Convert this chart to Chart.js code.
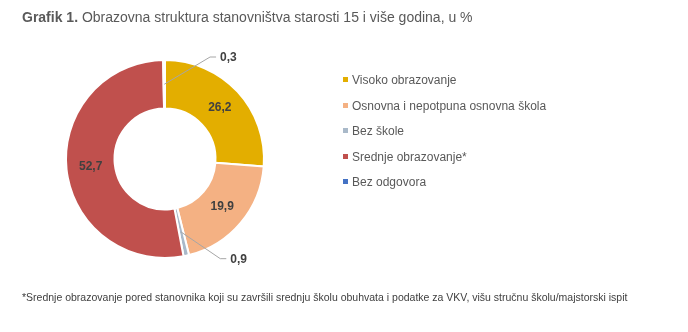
<!DOCTYPE html>
<html>
<head>
<meta charset="utf-8">
<script src="https://cdn.jsdelivr.net/npm/chart.js@4"></script>
<style>
  body { margin: 0; background: #fff; }
  #wrap { position: relative; width: 688px; height: 332px; font-family: "Liberation Sans", Arial, sans-serif; }
  #title { position: absolute; left: 22px; top: 9px; font-size: 14px; color: #595959; white-space: nowrap; }
  #title b { color: #595959; }
  #legend { position: absolute; left: 343px; top: 71px; font-size: 12px; color: #595959; }
  #legend div { height: 25.6px; line-height: 18px; white-space: nowrap; }
  #legend span { display: inline-block; width: 5px; height: 5px; margin-right: 4px; vertical-align: 2px; }
  #note { position: absolute; left: 22px; top: 291px; font-size: 10.5px; color: #404040; white-space: nowrap; }
  canvas { position: absolute; left: 0; top: 0; }
</style>
</head>
<body>
<div id="wrap">
  <canvas id="pie" width="688" height="332"></canvas>
  <div id="title"><b>Grafik 1.</b> Obrazovna struktura stanovništva starosti 15 i više godina, u %</div>
  <div id="legend"></div>
  <div id="note">*Srednje obrazovanje pored stanovnika koji su završili srednju školu obuhvata i podatke za VKV, višu stručnu školu/majstorski ispit</div>
</div>
<script>
const categories = ['Visoko obrazovanje', 'Osnovna i nepotpuna osnovna škola', 'Bez škole', 'Srednje obrazovanje*', 'Bez odgovora'];
const shares = [26.2, 19.9, 0.9, 52.7, 0.3];
const valueLabels = ['26,2', '19,9', '0,9', '52,7', '0,3'];
const colors = ['#E3AE00', '#F4B183', '#A9B9C9', '#C0504D', '#4472C4'];

// small slices get their label outside, with a leader line
const outside = { 2: { dx: 34, dy: 3 }, 4: { dx: 46, dy: -3 } };

const labelPlugin = {
    id: 'sliceLabels',
    afterDatasetsDraw(chart) {
        const ctx = chart.ctx;
        const arcs = chart.getDatasetMeta(0).data;
        ctx.save();
        ctx.font = 'bold 12px "Liberation Sans", Arial, sans-serif';
        ctx.fillStyle = '#404040';
        arcs.forEach((arc, i) => {
            const mid = (arc.startAngle + arc.endAngle) / 2;
            const rMid = (arc.innerRadius + arc.outerRadius) / 2;
            const px = arc.x + Math.cos(mid) * rMid;
            const py = arc.y + Math.sin(mid) * rMid;
            if (outside[i]) {
                const ox = arc.x + Math.cos(mid) * arc.outerRadius + outside[i].dx;
                const oy = arc.y + Math.sin(mid) * arc.outerRadius + outside[i].dy;
                ctx.strokeStyle = '#A6A6A6';
                ctx.lineWidth = 1;
                ctx.beginPath();
                ctx.moveTo(px, py);
                ctx.lineTo(ox, oy);
                ctx.lineTo(ox + 6, oy);
                ctx.stroke();
                ctx.textAlign = 'left';
                ctx.textBaseline = 'middle';
                ctx.fillText(valueLabels[i], ox + 10, oy + 1);
            } else {
                ctx.textAlign = 'center';
                ctx.textBaseline = 'middle';
                ctx.fillText(valueLabels[i], px, py);
            }
        });
        ctx.restore();
    }
};

new Chart(document.getElementById('pie'), {
    type: 'doughnut',
    data: {
        labels: categories,
        datasets: [{
            data: shares,
            backgroundColor: colors,
            borderColor: '#ffffff',
            borderWidth: 2
        }]
    },
    options: {
        responsive: false,
        animation: false,
        cutout: '51%',
        layout: { padding: { left: 65, right: 423, top: 59, bottom: 73 } },
        plugins: {
            legend: { display: false },
            tooltip: { enabled: false }
        }
    },
    plugins: [labelPlugin]
});

const legend = document.getElementById('legend');
categories.forEach((name, i) => {
    const row = document.createElement('div');
    const sw = document.createElement('span');
    sw.style.background = colors[i];
    row.appendChild(sw);
    row.appendChild(document.createTextNode(name));
    legend.appendChild(row);
});
</script>
</body>
</html>
